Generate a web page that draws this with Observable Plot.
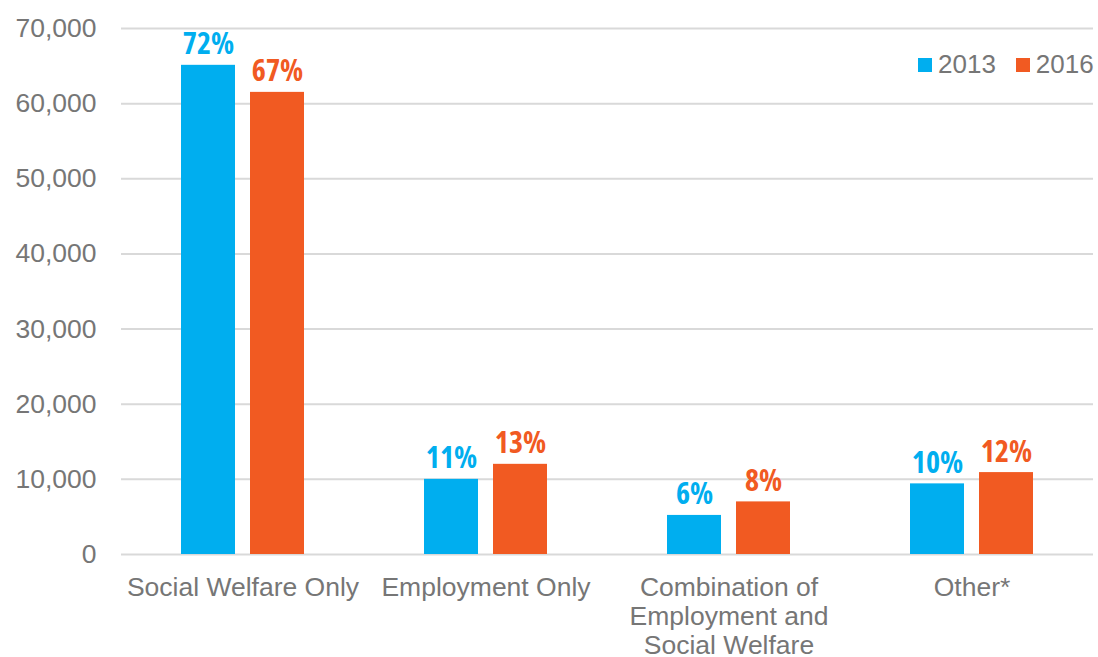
<!DOCTYPE html>
<html>
<head>
<meta charset="utf-8">
<script src="https://cdn.jsdelivr.net/npm/d3@7"></script>
<script src="https://cdn.jsdelivr.net/npm/@observablehq/plot@0.6"></script>
<style>
  html, body { margin: 0; padding: 0; background: #fff; }
  #wrap { position: relative; width: 1098px; height: 657px; }
  #legend { position: absolute; top: 49px; left: 918px; display: flex; align-items: center;
    font-family: "Liberation Sans", Arial, sans-serif; font-size: 26px; color: #767676; }
  #legend .sw { display: inline-block; width: 14px; height: 14px; margin-right: 6px; }
  #legend .item { display: flex; align-items: center; margin-right: 20px; }
  .pct text { font-stretch: 75%; }
</style>
</head>
<body>
<div id="wrap"><div id="legend"></div></div>
<script>
const categories = ["Social Welfare Only", "Employment Only", "Combination of Employment and Social Welfare", "Other*"];
const categoryLabels = ["Social Welfare Only", "Employment Only", "Combination of\nEmployment and\nSocial Welfare", "Other*"];
const years = ["2013", "2016"];
const values2013 = [65100, 10000, 5200, 9400];
const values2016 = [61500, 12000, 7000, 10900];
const pct2013 = ["72%", "11%", "6%", "10%"];
const pct2016 = ["67%", "13%", "8%", "12%"];
const yTicks = [0, 10000, 20000, 30000, 40000, 50000, 60000, 70000];
const colors = ["#00AEEF", "#F15A22"];

const data = [];
categories.forEach((c, i) => {
  data.push({category: c, year: years[0], value: values2013[i], pct: pct2013[i]});
  data.push({category: c, year: years[1], value: values2016[i], pct: pct2016[i]});
});
const labelOf = new Map(categories.map((c, i) => [c, categoryLabels[i]]));

const font = '"Liberation Sans", Arial, sans-serif';
const chart = Plot.plot({
  width: 1098,
  height: 657,
  marginLeft: 120,
  marginRight: 4,
  marginTop: 28,
  marginBottom: 103,
  style: {fontFamily: font, background: "#fff"},
  fx: {domain: categories, padding: 0, axis: null, label: null},
  x: {domain: years, paddingInner: 0.216, paddingOuter: 0.86, axis: null, label: null},
  y: {domain: [0, 70000], axis: null, label: null},
  color: {domain: years, range: colors},
  marks: [
    Plot.gridY(yTicks, {stroke: "#d9d9d9", strokeOpacity: 1, strokeWidth: 2}),
    Plot.axisY({ticks: yTicks, tickFormat: d3.format(","), tickSize: 0, tickPadding: 25,
      fontSize: 26.5, fill: "#767676", fontFamily: font, label: null}),
    Plot.axisFx({anchor: "bottom", tickSize: 0, tickPadding: 21, fontSize: 26.5, fill: "#767676",
      fontFamily: font, lineHeight: 1.1, tickFormat: d => labelOf.get(d), label: null}),
    Plot.barY(data, {fx: "category", x: "year", y: "value", fill: "year"}),
    Plot.text(data, {fx: "category", x: "year", y: "value", text: "pct", fill: "year",
      lineAnchor: "bottom", dy: -11, fontSize: 30, fontWeight: "bold", className: "pct",
      fontFamily: '"Open Sans", sans-serif'})
  ]
});
document.getElementById("wrap").prepend(chart);

const legend = document.getElementById("legend");
years.forEach((y, i) => {
  const item = document.createElement("span");
  item.className = "item";
  item.innerHTML = `<span class="sw" style="background:${colors[i]}"></span>${y}`;
  legend.appendChild(item);
});
</script>
</body>
</html>
